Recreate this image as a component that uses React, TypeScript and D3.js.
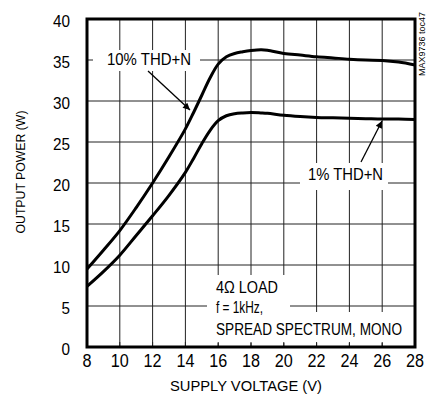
import React from "react";
import * as d3 from "d3";

const voltage = [8, 9, 10, 11, 12, 13, 14, 14.5, 15, 15.5, 16, 16.5, 17, 17.5, 18, 18.6, 19, 20, 21, 22, 23, 24, 25, 26, 27, 28];
const thd10 = [9.5, 11.8, 14.2, 17.0, 20.0, 23.2, 26.6, 28.6, 30.7, 32.8, 34.5, 35.4, 35.8, 36.0, 36.15, 36.25, 36.2, 35.8, 35.6, 35.4, 35.25, 35.1, 35.0, 34.95, 34.75, 34.4];
const thd1 = [7.4, 9.2, 11.2, 13.6, 16.0, 18.5, 21.3, 23.0, 24.8, 26.4, 27.6, 28.2, 28.45, 28.55, 28.6, 28.55, 28.5, 28.25, 28.1, 28.0, 27.95, 27.9, 27.85, 27.8, 27.8, 27.75];
const xTicks = [8, 10, 12, 14, 16, 18, 20, 22, 24, 26, 28];
const yTicks = [0, 5, 10, 15, 20, 25, 30, 35, 40];
const noteLines = ["4Ω LOAD", "f = 1kHz,", "SPREAD SPECTRUM, MONO"];

const FONT = "'Liberation Sans', Arial, sans-serif";

export default function App() {
  const W = 427, H = 404;
  const L = 87, R = 415, T = 19, B = 347;
  const x = d3.scaleLinear().domain([8, 28]).range([L, R]);
  const y = d3.scaleLinear().domain([0, 40]).range([B, T]);
  const line = d3.line<number>().x((_, i) => x(voltage[i])).y((d) => y(d)).curve(d3.curveCatmullRom.alpha(0.5));
  const noteY = [293, 313, 335];
  const noteLen = [62, 47, 186];

  return (
    <div style={{ position: "absolute", left: 0, top: 0 }}>
      <svg width={W} height={H} style={{ display: "block", background: "#fff" }} fontFamily={FONT}>
        <defs>
          <marker id="ah" viewBox="0 0 10 10" refX="10" refY="5" markerWidth="11" markerHeight="7" markerUnits="userSpaceOnUse" orient="auto">
            <path d="M0,0 L10,5 L0,10 z" fill="#000" />
          </marker>
        </defs>
        {/* grid */}
        {xTicks.slice(1, -1).map((t) => (
          <line key={"gx" + t} x1={x(t)} x2={x(t)} y1={T} y2={B} stroke="#222" strokeWidth={1} />
        ))}
        {yTicks.slice(1, -1).map((t) => (
          <line key={"gy" + t} x1={L} x2={R} y1={y(t)} y2={y(t)} stroke="#222" strokeWidth={1} />
        ))}
        {/* label boxes */}
        <rect x={93} y={50} width={107} height={21} fill="#fff" />
        <rect x={300} y={163} width={88} height={27} fill="#fff" />
        <rect x={207} y={275} width={83} height={37} fill="#fff" />
        <rect x={207} y={312} width={203} height={31} fill="#fff" />
        {/* inner bottom ticks */}
        {xTicks.slice(1, -1).map((t) => (
          <line key={"tk" + t} x1={x(t)} x2={x(t)} y1={B} y2={B - 5} stroke="#222" strokeWidth={1} />
        ))}
        {/* curves */}
        <path d={line(thd10) || ""} fill="none" stroke="#000" strokeWidth={3} />
        <path d={line(thd1) || ""} fill="none" stroke="#000" strokeWidth={3} />
        {/* border */}
        <rect x={L} y={T} width={R - L} height={B - T} fill="none" stroke="#000" strokeWidth={3} />
        {/* tick labels */}
        {yTicks.map((t) => (
          <text key={"yl" + t} x={70} y={y(t) + 8} textAnchor="end" fontSize={17} fill="#000"
            textLength={String(t).length > 1 ? 17 : 8.5} lengthAdjust="spacingAndGlyphs">{t}</text>
        ))}
        {xTicks.map((t) => (
          <text key={"xl" + t} x={x(t)} y={367} textAnchor="middle" fontSize={18} fill="#000"
            textLength={String(t).length > 1 ? 18 : 9} lengthAdjust="spacingAndGlyphs">{t}</text>
        ))}
        <text x={246} y={390.5} textAnchor="middle" fontSize={14} fill="#000" textLength={152} lengthAdjust="spacingAndGlyphs">SUPPLY VOLTAGE (V)</text>
        <text transform="translate(25,172) rotate(-90)" textAnchor="middle" fontSize={13} fill="#000" textLength={123} lengthAdjust="spacingAndGlyphs">OUTPUT POWER (W)</text>
        {/* annotations */}
        <text x={107} y={65} fontSize={16} fill="#000" textLength={84} lengthAdjust="spacingAndGlyphs">10% THD+N</text>
        <text x={308} y={180} fontSize={16} fill="#000" textLength={75} lengthAdjust="spacingAndGlyphs">1% THD+N</text>
        {noteLines.map((s, i) => (
          <text key={"n" + i} x={216} y={noteY[i]} fontSize={16} fill="#000" textLength={noteLen[i]} lengthAdjust="spacingAndGlyphs">{s}</text>
        ))}
        <line x1={148} y1={71} x2={190} y2={110} stroke="#000" strokeWidth={1.3} markerEnd="url(#ah)" />
        <line x1={361} y1={162} x2={382} y2={121} stroke="#000" strokeWidth={1.3} markerEnd="url(#ah)" />
        <text transform="translate(425,76) rotate(-90)" fontSize={9} fill="#000" textLength={64} lengthAdjust="spacingAndGlyphs">MAX9736 toc47</text>
      </svg>
    </div>
  );
}
